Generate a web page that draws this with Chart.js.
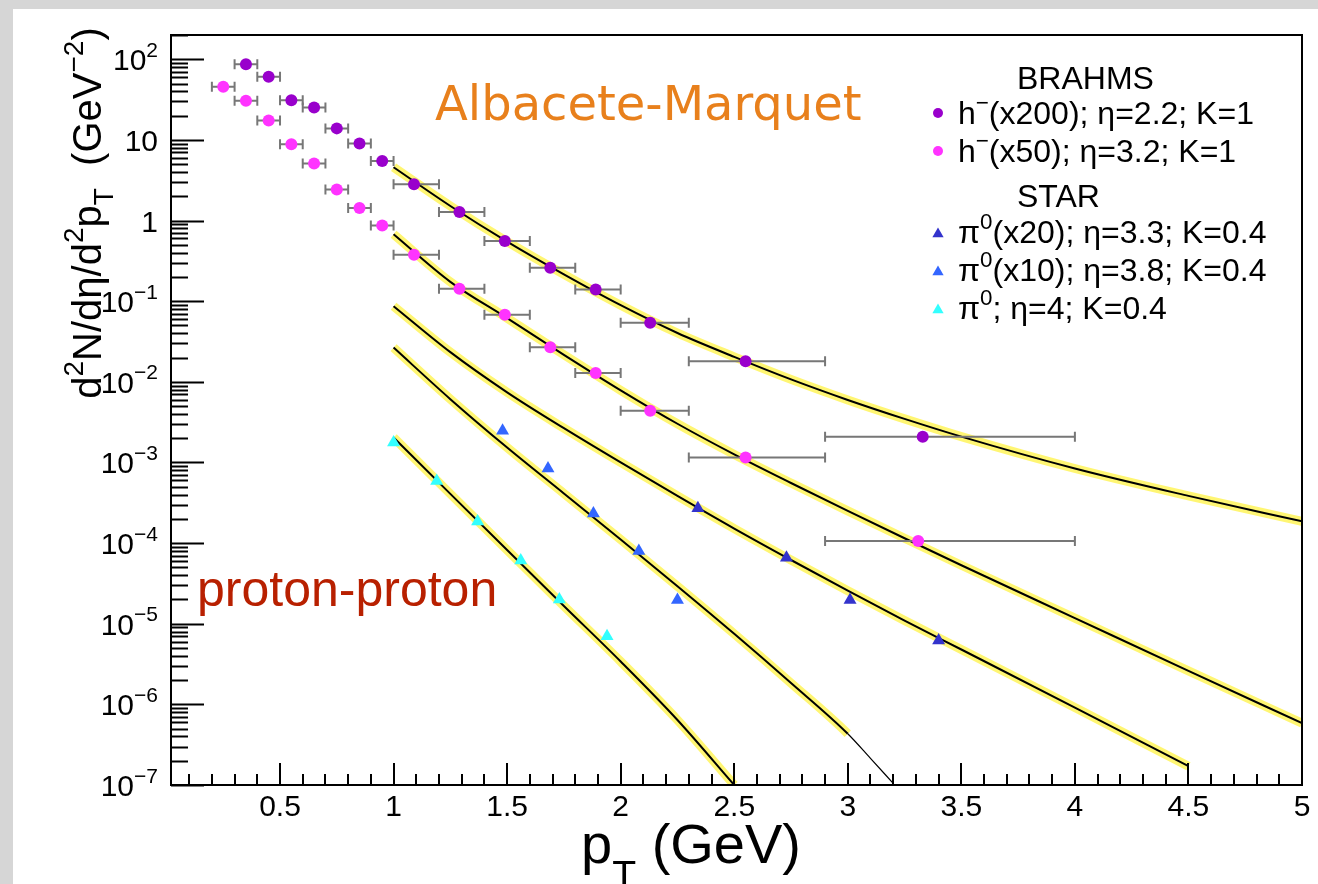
<!DOCTYPE html>
<html>
<head>
<meta charset="utf-8">
<script src="https://cdn.jsdelivr.net/npm/chart.js@4.4.1/dist/chart.umd.min.js"></script>
<style>
html, body { margin: 0; padding: 0; background: #d6d6d6; }
#spectra { position: absolute; left: 0; top: 0; }
</style>
</head>
<body>
<canvas id="spectra" width="1318" height="884"></canvas>
<script>
// BRAHMS h- (x200), eta = 2.2
const h200X  = [0.35, 0.45, 0.55, 0.65, 0.75, 0.85, 0.95, 1.09, 1.29, 1.49, 1.69, 1.89, 2.13, 2.55, 3.33];
const h200Y  = [86.5, 60.6, 31.1, 25.3, 13.9, 9.0, 5.48, 2.82, 1.28, 0.556, 0.26, 0.14, 0.054, 0.018, 0.00208];
const h200Lo = [0.3, 0.4, 0.5, 0.6, 0.7, 0.8, 0.9, 1.0, 1.2, 1.4, 1.6, 1.8, 2.0, 2.3, 2.9];
const h200Hi = [0.4, 0.5, 0.6, 0.7, 0.8, 0.9, 1.0, 1.2, 1.4, 1.6, 1.8, 2.0, 2.3, 2.9, 4.0];

// BRAHMS h- (x50), eta = 3.2
const h50X  = [0.25, 0.35, 0.45, 0.55, 0.65, 0.75, 0.85, 0.95, 1.09, 1.29, 1.49, 1.69, 1.89, 2.13, 2.55, 3.31];
const h50Y  = [45.5, 30.5, 17.4, 8.84, 5.09, 2.42, 1.43, 0.87, 0.377, 0.143, 0.0678, 0.0268, 0.0129, 0.00439, 0.00115, 0.000106];
const h50Lo = [0.2, 0.3, 0.4, 0.5, 0.6, 0.7, 0.8, 0.9, 1.0, 1.2, 1.4, 1.6, 1.8, 2.0, 2.3, 2.9];
const h50Hi = [0.3, 0.4, 0.5, 0.6, 0.7, 0.8, 0.9, 1.0, 1.2, 1.4, 1.6, 1.8, 2.0, 2.3, 2.9, 4.0];

// STAR pi0
const pi20X = [2.34, 2.73, 3.01, 3.40];
const pi20Y = [2.71e-4, 6.6e-5, 1.97e-5, 6.2e-6];
const pi10X = [1.48, 1.68, 1.88, 2.08, 2.25];
const pi10Y = [2.48e-3, 8.4e-4, 2.32e-4, 8.0e-5, 1.97e-5];
const pi0X  = [1.00, 1.19, 1.37, 1.56, 1.73, 1.94];
const pi0Y  = [1.77e-3, 5.9e-4, 1.85e-4, 6.1e-5, 2.0e-5, 7.0e-6];

// Albacete-Marquet curves
const fitX     = [1.0, 1.25, 1.5, 1.75, 2.0, 2.25, 2.5, 2.75, 3.0, 3.25, 3.5, 4.0, 4.5, 5.0];
const fitH200  = [4.58, 1.514, 0.547, 0.2148, 0.0891, 0.0403, 0.0204, 0.01072, 5.96e-3, 3.47e-3, 2.09e-3, 8.41e-4, 3.85e-4, 1.86e-4];
const fitH50   = [0.676, 0.1738, 0.0617, 0.02163, 7.85e-3, 3.02e-3, 1.259e-3, 5.56e-4, 2.51e-4, 1.148e-4, 5.31e-5, 1.175e-5, 2.6e-6, 5.85e-7];
const fitPi20X = [1.0, 1.25, 1.5, 1.75, 2.0, 2.25, 2.5, 2.75, 3.0, 3.25, 3.5, 4.0, 4.5];
const fitPi20  = [0.0867, 0.02333, 7.41e-3, 2.66e-3, 1.0e-3, 3.85e-4, 1.514e-4, 6.17e-5, 2.57e-5, 1.096e-5, 4.79e-6, 9.12e-7, 1.71e-7];
const fitPi10X = [1.0, 1.25, 1.5, 1.75, 2.0, 2.25, 2.5, 2.75, 3.0, 3.1, 3.2];
const fitPi10  = [0.0266, 6.1e-3, 1.531e-3, 4.12e-4, 1.109e-4, 2.92e-5, 7.5e-6, 1.84e-6, 4.32e-7, 2.14e-7, 1.05e-7];
const fitPi0X  = [1.0, 1.25, 1.5, 1.75, 2.0, 2.25, 2.5];
const fitPi0   = [2.04e-3, 4.08e-4, 8.2e-5, 1.66e-5, 3.4e-6, 6.4e-7, 1.0e-7];

const yDecades = [-7, -6, -5, -4, -3, -2, -1, 0, 1, 2];
const xMajor = [0.5, 1, 1.5, 2, 2.5, 3, 3.5, 4, 4.5, 5];
const xLabels = ["0.5", "1", "1.5", "2", "2.5", "3", "3.5", "4", "4.5", "5"];

const legendRows = [
    { head: "BRAHMS" },
    { color: "#9900cc", shape: "circle", parts: [["h", "n"], ["\u2212", "sup"], ["(x200); \u03b7=2.2; K=1", "n"]] },
    { color: "#ff33ff", shape: "circle", parts: [["h", "n"], ["\u2212", "sup"], ["(x50); \u03b7=3.2; K=1", "n"]] },
    { head: "STAR" },
    { color: "#3333cc", shape: "triangle", parts: [["\u03c0", "n"], ["0", "sup"], ["(x20); \u03b7=3.3; K=0.4", "n"]] },
    { color: "#3366ff", shape: "triangle", parts: [["\u03c0", "n"], ["0", "sup"], ["(x10); \u03b7=3.8; K=0.4", "n"]] },
    { color: "#33ffff", shape: "triangle", parts: [["\u03c0", "n"], ["0", "sup"], ["; \u03b7=4; K=0.4", "n"]] },
];
const legendY = [78, 113, 151, 196, 232, 270, 308];

const FONT = '"Liberation Sans", Arial, Helvetica, sans-serif';
const BAND = "rgba(255, 238, 0, 0.55)";

function pts(xs, ys) {
    return xs.map((x, i) => ({ x: x, y: ys[i] }));
}

function setFont(ctx, size) {
    ctx.font = size + "px " + FONT;
}

// text with superscripts / subscripts, ROOT TLatex style
function drawRich(ctx, parts, x, y, size, align, subDrop) {
    let total = 0;
    const items = parts.map(([t, k]) => {
        const s = k === "n" ? size : size * 0.7;
        setFont(ctx, s);
        const w = ctx.measureText(t).width;
        const dy = k === "sup" ? -0.45 * size : (k === "sub" ? (subDrop || 0.3) * size : 0);
        const it = { t: t, s: s, dy: dy, x: total };
        total += w;
        return it;
    });
    let x0 = x;
    if (align === "right") x0 = x - total;
    if (align === "center") x0 = x - total / 2;
    ctx.fillStyle = "#000";
    ctx.textAlign = "left";
    ctx.textBaseline = "alphabetic";
    items.forEach((it) => {
        setFont(ctx, it.s);
        ctx.fillText(it.t, x0 + it.x, y + it.dy);
    });
}

function marker(ctx, shape, color, x, y, r) {
    ctx.fillStyle = color;
    ctx.beginPath();
    if (shape === "circle") {
        ctx.arc(x, y, r, 0, Math.PI * 2);
    } else {
        ctx.moveTo(x, y - r);
        ctx.lineTo(x + r * 0.866, y + r * 0.5);
        ctx.lineTo(x - r * 0.866, y + r * 0.5);
        ctx.closePath();
    }
    ctx.fill();
}

function markerSet(label, xs, ys, color, style, radius, lo, hi) {
    return {
        label: label,
        data: pts(xs, ys),
        errLo: lo,
        errHi: hi,
        showLine: false,
        pointStyle: style,
        pointRadius: radius,
        pointBackgroundColor: color,
        pointBorderWidth: 0,
        order: 0,
    };
}

function curve(xs, ys, bandEnd) {
    const data = pts(xs, ys);
    return [
        {
            data: data,
            showLine: true,
            pointRadius: 0,
            borderColor: "#000",
            borderWidth: 2,
            cubicInterpolationMode: "monotone",
            segment: {
                borderWidth: (c) => (bandEnd && c.p0.parsed.x >= bandEnd ? 1.2 : 2),
            },
            order: 1,
        },
        {
            data: data,
            showLine: true,
            pointRadius: 0,
            borderColor: BAND,
            borderWidth: 9,
            cubicInterpolationMode: "monotone",
            segment: {
                borderColor: (c) => (bandEnd && c.p0.parsed.x >= bandEnd ? "rgba(0,0,0,0)" : BAND),
            },
            order: 2,
        },
    ];
}

const errorBars = {
    id: "errorBars",
    beforeDatasetDraw(chart, args) {
        const ds = chart.data.datasets[args.index];
        if (!ds.errLo) return;
        const ctx = chart.ctx;
        const xs = chart.scales.x, ys = chart.scales.y;
        ctx.save();
        ctx.strokeStyle = "#777777";
        ctx.lineWidth = 2;
        ds.data.forEach((p, i) => {
            const y = ys.getPixelForValue(p.y);
            const a = xs.getPixelForValue(ds.errLo[i]);
            const b = xs.getPixelForValue(ds.errHi[i]);
            ctx.beginPath();
            ctx.moveTo(a, y); ctx.lineTo(b, y);
            ctx.moveTo(a, y - 5); ctx.lineTo(a, y + 5);
            ctx.moveTo(b, y - 5); ctx.lineTo(b, y + 5);
            ctx.stroke();
        });
        ctx.restore();
    },
};

const rootFrame = {
    id: "rootFrame",
    beforeDraw(chart) {
        const ctx = chart.ctx;
        ctx.save();
        ctx.fillStyle = "#d6d6d6";
        ctx.fillRect(0, 0, chart.width, chart.height);
        ctx.fillStyle = "#ffffff";
        ctx.fillRect(13, 9, chart.width - 13, chart.height - 9);
        ctx.restore();
    },
    afterDatasetsDraw(chart) {
        const ctx = chart.ctx;
        const a = chart.chartArea;
        const xs = chart.scales.x, ys = chart.scales.y;
        ctx.save();
        ctx.strokeStyle = "#000";
        ctx.lineWidth = 2;
        ctx.strokeRect(a.left, a.top, a.right - a.left, a.bottom - a.top);

        // y ticks (log), pointing into the frame
        ctx.beginPath();
        yDecades.forEach((e) => {
            for (let m = 1; m <= 9; m++) {
                const v = m * Math.pow(10, e);
                if (v < ys.min || v > ys.max * 1.0001) continue;
                const py = Math.round(ys.getPixelForValue(v)) + 0.5;
                ctx.moveTo(a.left, py);
                ctx.lineTo(a.left + (m === 1 ? 33 : 17), py);
            }
        });
        // x ticks
        for (let k = 1; k <= 50; k++) {
            const v = k / 10;
            if (v < xs.min) continue;
            const px = Math.round(xs.getPixelForValue(v));
            ctx.moveTo(px, a.bottom);
            ctx.lineTo(px, a.bottom - (k % 5 === 0 ? 22 : 11));
        }
        ctx.stroke();

        // y tick labels
        yDecades.forEach((e) => {
            const py = ys.getPixelForValue(Math.pow(10, e));
            let parts;
            if (e === 0) parts = [["1", "n"]];
            else if (e === 1) parts = [["10", "n"]];
            else parts = [["10", "n"], [e < 0 ? "\u2212" + (-e) : String(e), "sup"]];
            drawRich(ctx, parts, 158, py + 11, 30, "right");
        });
        // x tick labels
        xMajor.forEach((v, i) => {
            drawRich(ctx, [[xLabels[i], "n"]], xs.getPixelForValue(v), 816, 30, "center");
        });

        // axis titles
        drawRich(ctx, [["p", "n"], ["T", "sub"], [" (GeV)", "n"]], 691, 863, 56, "center", 0.45);
        ctx.save();
        ctx.translate(101, 213);
        ctx.rotate(-Math.PI / 2);
        drawRich(ctx, [["d", "n"], ["2", "sup"], ["N/d\u03b7/d", "n"], ["2", "sup"], ["p", "n"], ["T", "sub"],
            ["  (GeV", "n"], ["\u22122", "sup"], [")", "n"]], 0, 0, 40, "center");
        ctx.restore();

        // legend
        legendRows.forEach((row, i) => {
            const y = legendY[i];
            if (row.head) {
                drawRich(ctx, [[row.head, "n"]], 1017, y + 11, 32, "left");
            } else {
                marker(ctx, row.shape, row.color, 938, y + (row.shape === "triangle" ? 2 : 0), row.shape === "circle" ? 5 : 6.5);
                drawRich(ctx, row.parts, 958, y + 11, 32, "left");
            }
        });

        // annotations
        ctx.fillStyle = "#e8801c";
        ctx.font = '48px "DejaVu Sans", sans-serif';
        ctx.textAlign = "left";
        ctx.textBaseline = "alphabetic";
        ctx.fillText("Albacete-Marquet", 435, 120);
        ctx.fillStyle = "#b82000";
        ctx.font = "50px " + FONT;
        ctx.fillText("proton-proton", 197, 606);
        ctx.restore();
    },
};

const datasets = [
    markerSet("h200", h200X, h200Y, "#9900cc", "circle", 6, h200Lo, h200Hi),
    markerSet("h50", h50X, h50Y, "#ff33ff", "circle", 6, h50Lo, h50Hi),
    markerSet("pi20", pi20X, pi20Y, "#3333cc", "triangle", 7.5),
    markerSet("pi10", pi10X, pi10Y, "#3366ff", "triangle", 7.5),
    markerSet("pi0", pi0X, pi0Y, "#33ffff", "triangle", 7.5),
    ...curve(fitX, fitH200),
    ...curve(fitX, fitH50),
    ...curve(fitPi20X, fitPi20),
    ...curve(fitPi10X, fitPi10, 3.0),
    ...curve(fitPi0X, fitPi0),
];

new Chart(document.getElementById("spectra"), {
    type: "scatter",
    data: { datasets: datasets },
    options: {
        responsive: false,
        animation: false,
        layout: { padding: { left: 171, top: 35, right: 16, bottom: 99 } },
        plugins: { legend: { display: false }, tooltip: { enabled: false } },
        scales: {
            x: { type: "linear", min: 0.02, max: 5, display: false },
            y: { type: "logarithmic", min: 1e-7, max: 200, display: false },
        },
    },
    plugins: [rootFrame, errorBars],
});
</script>
</body>
</html>
